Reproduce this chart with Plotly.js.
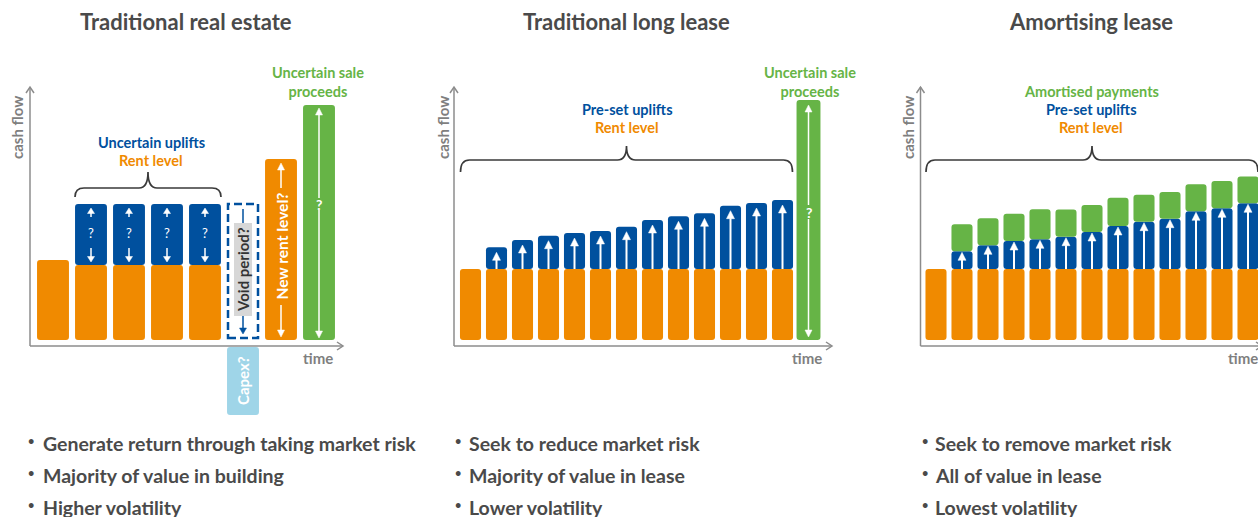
<!DOCTYPE html>
<html><head><meta charset="utf-8">
<script src="https://cdn.plot.ly/plotly-3.0.1.min.js"></script>
<style>html,body{margin:0;padding:0;background:#fff}#chart{width:1258px;height:517px}</style>
</head><body><div id="chart"></div>
<script>
// ---------------- data ----------------
const panelTitles = ['Traditional real estate', 'Traditional long lease', 'Amortising lease'];

// Panel 1 – traditional real estate (cash flow units)
const p1Periods = [0, 1, 2, 3, 4];
const p1Rent = [80, 75, 75, 75, 75];
const p1UpliftPeriods = [1, 2, 3, 4];
const p1Uplift = [61, 61, 61, 61];
const p1VoidPeriod = 5;
const p1CapexPeriod = 5;
const p1Capex = [-68];
const p1NewRentPeriod = 6;
const p1NewRent = [181];
const p1SalePeriod = 7;
const p1Sale = [235];

// Panel 2 – traditional long lease
const p2Periods = [0, 1, 2, 3, 4, 5, 6, 7, 8, 9, 10, 11, 12];
const p2Rent = [71, 71, 71, 71, 71, 71, 71, 71, 71, 71, 71, 71, 71];
const p2UpliftPeriods = [1, 2, 3, 4, 5, 6, 7, 8, 9, 10, 11, 12];
const p2Uplift = [21.7, 29, 33.3, 36, 38, 42.3, 49, 52.7, 55.7, 63.3, 66, 69];
const p2SalePeriod = 13;
const p2Sale = [240];

// Panel 3 – amortising lease
const p3Periods = [0, 1, 2, 3, 4, 5, 6, 7, 8, 9, 10, 11, 12];
const p3Rent = [71, 71, 71, 71, 71, 71, 71, 71, 71, 71, 71, 71, 71];
const p3UpliftPeriods = [1, 2, 3, 4, 5, 6, 7, 8, 9, 10, 11, 12];
const p3Uplift = [17.7, 23.7, 28, 29.7, 32.3, 37, 43, 47.3, 50.3, 57.7, 60.7, 65.7];
const p3Amortised = [27, 27, 27.3, 30, 27.3, 27, 28.3, 27, 26.7, 27, 27.3, 26.7];

const bullets1 = ['Generate return through taking market risk', 'Majority of value in building', 'Higher volatility'];
const bullets2 = ['Seek to reduce market risk', 'Majority of value in lease', 'Lower volatility'];
const bullets3 = ['Seek to remove market risk', 'All of value in lease', 'Lowest volatility'];

// ---------------- layout geometry ----------------
const W = 1258, H = 517, ZERO_PX = 340;
const ORANGE = '#F08A00', BLUE = '#00509E', GREEN = '#66B446', LBLUE = '#9FD5E8';
const TXT = '#4a4a4a', AXC = '#8c8c8c';
const FONT = 'Lato, "Open Sans", sans-serif';
const P = [
  {xa: 'x',  c0: 53,    pitch: 38, left: 0,   right: 420,  axisPx: 30,    axisEndPx: 343,  barW: 0.84},
  {xa: 'x2', c0: 470.5, pitch: 26, left: 420, right: 880,  axisPx: 454,   axisEndPx: 832,  barW: 0.81},
  {xa: 'x3', c0: 936,   pitch: 26, left: 880, right: 1258, axisPx: 920.5, axisEndPx: 1262, barW: 0.81}
];
const AX_Y = -6, AX_TOP = 253;
const yv = py => ZERO_PX - py;
const toX = (p, px) => (px - p.c0) / p.pitch;
const dX = (p, d) => d / p.pitch;

const shapes = [], ann = [], traces = [];

function bar(p, x, y, base, color, w) {
  return {type: 'bar', xaxis: p.xa, yaxis: 'y', x: x, y: y, base: base, width: w,
    marker: {color: color, cornerradius: 3, line: {width: 0}}, hoverinfo: 'skip', showlegend: false};
}
function addLine(p, x0, y0, x1, y1, color, width, dash) {
  shapes.push({type: 'line', xref: p.xa, yref: 'y', x0: x0, y0: y0, x1: x1, y1: y1,
    line: {color: color, width: width, dash: dash || 'solid'}, layer: 'above'});
}
function addPath(p, pts, opts) {
  let d = 'M ' + pts.map(q => q[0] + ',' + q[1]).join(' L ');
  if (opts.close) d += ' Z';
  shapes.push({type: 'path', xref: p.xa, yref: 'y', path: d,
    fillcolor: opts.fill || 'rgba(0,0,0,0)',
    line: {color: opts.color || 'rgba(0,0,0,0)', width: opts.width || 0}, layer: 'above'});
}
function addArrow(p, x, tail, tip, color, lw, hl, hw) {
  const dir = tip > tail ? 1 : -1;
  const hb = tip - dir * hl;
  addLine(p, x, tail, x, hb + dir * 0.5, color, lw);
  addPath(p, [[x - dX(p, hw), hb], [x, tip], [x + dX(p, hw), hb]], {close: true, fill: color, color: color, width: 0.5});
}
function addBrace(p, xl, xr, yEnd, yH, yTip) {
  const r = dX(p, 9), xm = (xl + xr) / 2;
  const d = `M ${xl},${yEnd} Q ${xl},${yH} ${xl + r},${yH} L ${xm - r},${yH} Q ${xm},${yH} ${xm},${yTip} ` +
            `Q ${xm},${yH} ${xm + r},${yH} L ${xr - r},${yH} Q ${xr},${yH} ${xr},${yEnd}`;
  shapes.push({type: 'path', xref: p.xa, yref: 'y', path: d, line: {color: '#3a3a3a', width: 1.7}, layer: 'above'});
}
function txt(text, px, py, o) {
  o = o || {};
  ann.push({text: '<b>' + text + '</b>', x: px / W, y: 1 - py / H, xref: 'paper', yref: 'paper',
    showarrow: false, xanchor: o.xanchor || 'center', yanchor: 'middle', textangle: o.angle || 0,
    font: {family: FONT, size: o.size || 14.5, color: o.color || TXT}});
}
function dtxt(p, text, x, y, o) {
  o = o || {};
  ann.push({text: o.plain ? text : '<b>' + text + '</b>', x: x, y: y, xref: p.xa, yref: 'y',
    showarrow: false, xanchor: 'center', yanchor: 'middle', textangle: o.angle || 0,
    font: {family: FONT, size: o.size || 14.5, color: o.color || '#fff'}});
}

// ---------- axes (arrows) ----------
P.forEach(p => {
  const ax = toX(p, p.axisPx), ex = toX(p, p.axisEndPx);
  addLine(p, ax, AX_Y, ax, AX_TOP, AXC, 1.5);
  addLine(p, ax, AX_Y, ex, AX_Y, AXC, 1.5);
  addPath(p, [[ax - dX(p, 4), AX_TOP - 6], [ax, AX_TOP], [ax + dX(p, 4), AX_TOP - 6]], {color: AXC, width: 1.5});
  addPath(p, [[ex - dX(p, 6), AX_Y + 4], [ex, AX_Y], [ex - dX(p, 6), AX_Y - 4]], {color: AXC, width: 1.5});
});

// ---------- Panel 1 ----------
const P1 = P[0];
const p1Totals = p1UpliftPeriods.map((per, i) => p1Rent[p1Periods.indexOf(per)] + p1Uplift[i]);
traces.push(bar(P1, p1Periods, p1Rent, 0, ORANGE, P1.barW));
traces.push(bar(P1, p1UpliftPeriods, p1Uplift, p1UpliftPeriods.map(per => p1Rent[p1Periods.indexOf(per)]), BLUE, P1.barW));
traces.push(bar(P1, [p1CapexPeriod], p1Capex, AX_Y - 1, LBLUE, P1.barW));
traces.push(bar(P1, [p1NewRentPeriod], p1NewRent, 0, ORANGE, P1.barW));
traces.push(bar(P1, [p1SalePeriod], p1Sale, 0, GREEN, P1.barW));

p1UpliftPeriods.forEach((per, i) => {
  const rent = p1Rent[p1Periods.indexOf(per)], top = p1Totals[i];
  addArrow(P1, per, top - 13, top - 4, '#fff', 1.5, 5.5, 3.5);
  addArrow(P1, per, rent + 17, rent + 3, '#fff', 1.5, 5.5, 3.5);
  dtxt(P1, '?', per, (rent + top) / 2 + 2, {plain: true, size: 13});
});
// void period box
const voidTop = p1Totals[p1Totals.length - 1];
shapes.push({type: 'rect', xref: P1.xa, yref: 'y', x0: p1VoidPeriod - dX(P1, 15), x1: p1VoidPeriod + dX(P1, 15),
  y0: 2, y1: voidTop, line: {color: BLUE, width: 2.5, dash: '8px,4px'}, fillcolor: 'rgba(0,0,0,0)', layer: 'above'});
shapes.push({type: 'rect', xref: P1.xa, yref: 'y', x0: p1VoidPeriod - dX(P1, 9), x1: p1VoidPeriod + dX(P1, 9),
  y0: yv(316), y1: yv(223), line: {width: 0}, fillcolor: '#d7d7d7', layer: 'above'});
addLine(P1, p1VoidPeriod, voidTop - 5, p1VoidPeriod, yv(223), BLUE, 1.5);
addArrow(P1, p1VoidPeriod, yv(316), 6, BLUE, 1.5, 6, 3.5);
dtxt(P1, 'Void period?', p1VoidPeriod, yv(270), {angle: -90, color: '#333', size: 15});
// capex
dtxt(P1, 'Capex?', p1CapexPeriod, AX_Y - 1 + p1Capex[0] / 2, {angle: -90, size: 15});
// new rent level
{
  const top = p1NewRent[0];
  addArrow(P1, p1NewRentPeriod, top - 29, top - 4, '#fff', 1.5, 7, 3.5);
  addArrow(P1, p1NewRentPeriod, 35, 3, '#fff', 1.5, 7, 3.5);
  dtxt(P1, 'New rent level?', p1NewRentPeriod, (top - 29 + 35) / 2, {angle: -90, size: 15.5});
}
// sale proceeds
{
  const top = p1Sale[0];
  addArrow(P1, p1SalePeriod, yv(198), top - 3, '#fff', 1.5, 7, 3.5);
  addArrow(P1, p1SalePeriod, yv(210), 2, '#fff', 1.5, 7, 3.5);
  dtxt(P1, '?', p1SalePeriod, yv(204), {size: 14});
}
addBrace(P1, p1UpliftPeriods[0] - dX(P1, 16), p1UpliftPeriods[p1UpliftPeriods.length - 1] + dX(P1, 16), yv(197), yv(188), yv(172));
txt('Uncertain uplifts', 151, 142, {color: BLUE});
txt('Rent level', 151, 160, {color: ORANGE});
txt('Uncertain sale<br>proceeds', 318, 82, {color: GREEN});

// ---------- Panel 2 ----------
const P2 = P[1];
const p2Base = p2UpliftPeriods.map(per => p2Rent[p2Periods.indexOf(per)]);
traces.push(bar(P2, p2Periods, p2Rent, 0, ORANGE, P2.barW));
traces.push(bar(P2, p2UpliftPeriods, p2Uplift, p2Base, BLUE, P2.barW));
traces.push(bar(P2, [p2SalePeriod], p2Sale, 0, GREEN, 0.92));
p2UpliftPeriods.forEach((per, i) => {
  addArrow(P2, per, p2Base[i], p2Base[i] + p2Uplift[i] - 5, '#fff', 2, 8, 4);
});
{
  const top = p2Sale[0];
  addArrow(P2, p2SalePeriod, yv(205), top - 5, '#fff', 1.5, 7, 3.5);
  addArrow(P2, p2SalePeriod, yv(219), 3, '#fff', 1.5, 7, 3.5);
  dtxt(P2, '?', p2SalePeriod, yv(212), {size: 14});
}
addBrace(P2, p2Periods[0] - dX(P2, 10), p2Periods[p2Periods.length - 1] + dX(P2, 10), yv(172), yv(160), yv(146));
txt('Pre-set uplifts', 627, 110, {color: BLUE});
txt('Rent level', 627, 128, {color: ORANGE});
txt('Uncertain sale<br>proceeds', 810, 82, {color: GREEN});

// ---------- Panel 3 ----------
const P3 = P[2];
const p3Base = p3UpliftPeriods.map(per => p3Rent[p3Periods.indexOf(per)]);
const p3Base2 = p3Base.map((b, i) => b + p3Uplift[i]);
traces.push(bar(P3, p3Periods, p3Rent, 0, ORANGE, P3.barW));
traces.push(bar(P3, p3UpliftPeriods, p3Uplift, p3Base, BLUE, P3.barW));
traces.push(bar(P3, p3UpliftPeriods, p3Amortised, p3Base2, GREEN, P3.barW));
p3UpliftPeriods.forEach((per, i) => {
  addArrow(P3, per, p3Base[i], p3Base2[i] - 1, '#fff', 2, 8, 4);
});
addBrace(P3, p3Periods[0] - dX(P3, 10), p3Periods[p3Periods.length - 1] + dX(P3, 10), yv(172), yv(160), yv(146));
txt('Amortised payments', 1091, 92, {color: GREEN});
txt('Pre-set uplifts', 1091, 110, {color: BLUE});
txt('Rent level', 1091, 128, {color: ORANGE});

// ---------- common texts ----------
const titleX = [186, 626, 1091];
panelTitles.forEach((t, i) => txt(t, titleX[i], 21, {size: 22, color: TXT}));
const cashX = [17, 443, 908];
cashX.forEach(x => txt('cash flow', x, 128, {angle: -90, size: 15, color: '#7f7f7f'}));
const timeX = [318, 807, 1243];
timeX.forEach(x => txt('time', x, 358, {size: 15, color: '#7f7f7f'}));
const bulletSets = [bullets1, bullets2, bullets3];
const bulletX = [31, 458, 925], bulletTextX = [41, 467, 933], bulletY = [443, 475, 507];
bulletSets.forEach((set, k) => set.forEach((b, j) => {
  txt('•', bulletX[k], bulletY[j] - 3, {size: 11, color: TXT});
  txt(b, bulletTextX[k], bulletY[j], {size: 19.5, color: TXT, xanchor: 'left'});
}));

// ---------- layout ----------
const xr = p => [toX(p, p.left), toX(p, p.right)];
const hidden = {visible: false, fixedrange: true};
const layout = {
  width: W, height: H, margin: {l: 0, r: 0, t: 0, b: 0},
  paper_bgcolor: '#fff', plot_bgcolor: 'rgba(0,0,0,0)',
  barmode: 'overlay', showlegend: false,
  xaxis:  Object.assign({domain: [P[0].left / W, P[0].right / W], range: xr(P[0]), anchor: 'y'}, hidden),
  xaxis2: Object.assign({domain: [P[1].left / W, P[1].right / W], range: xr(P[1]), anchor: 'y'}, hidden),
  xaxis3: Object.assign({domain: [P[2].left / W, P[2].right / W], range: xr(P[2]), anchor: 'y'}, hidden),
  yaxis:  Object.assign({domain: [0, 1], range: [ZERO_PX - H, ZERO_PX]}, hidden),
  shapes: shapes, annotations: ann
};
Plotly.newPlot('chart', traces, layout, {displayModeBar: false, staticPlot: true});
</script></body></html>
